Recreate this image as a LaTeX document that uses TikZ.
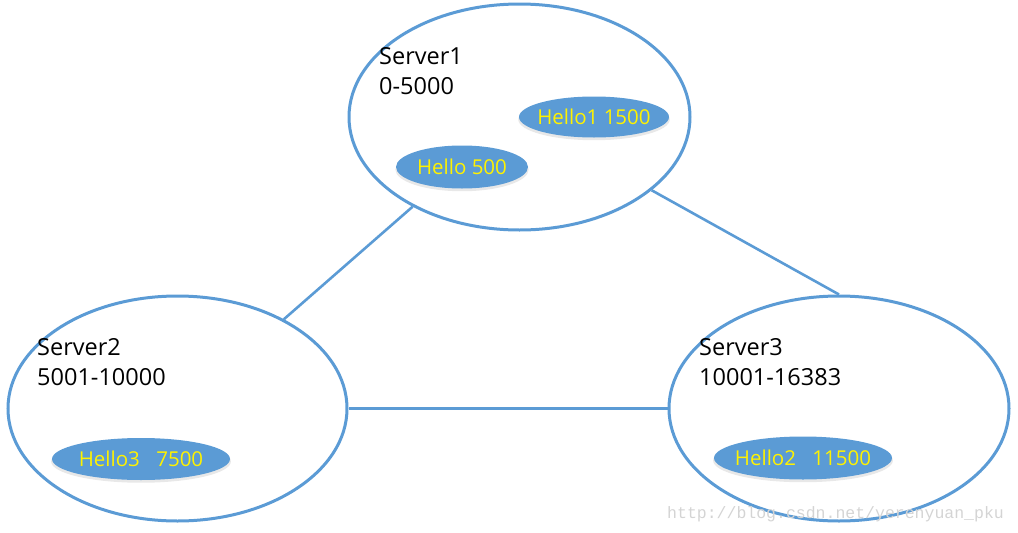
\documentclass[tikz,border=0pt]{standalone}
\usepackage{fontspec}
\setmainfont{Open Sans}
\usetikzlibrary{shapes.geometric,shadows}
\definecolor{obl}{HTML}{5B9BD5}
\definecolor{wm}{HTML}{D4D4D4}
\begin{document}
\begin{tikzpicture}[x=1pt,y=-1pt,
  server/.style={ellipse,draw=obl,line width=3pt,inner sep=0pt,minimum width=#1},
  item/.style={ellipse,fill=obl,inner sep=0pt,
    drop shadow={opacity=0.18,shadow xshift=0pt,shadow yshift=-2.5pt,shadow scale=1.01,fill=gray}},
  itemtext/.style={inner sep=0pt,text=yellow,font=\fontsize{20.5}{20.5}\selectfont},
  lbl/.style={anchor=north west,align=left,inner sep=0pt,font=\fontsize{23.5}{30}\selectfont},
  link/.style={draw=obl,line width=2.6pt}]
\useasboundingbox (0,0) rectangle (1018,533);
\node[server=341pt,minimum height=226pt] (s1) at (519.5,117) {};
\node[server=339pt,minimum height=225pt] (s2) at (177.5,408.5) {};
\node[server=340pt,minimum height=225pt] (s3) at (839,408.5) {};
\draw[link] (s1.220) -- (s2.40);
\draw[link] (s1.-29) -- (s3.north);
\draw[link] (s2.east) -- (s3.west);
\node[lbl] (t1) at (379,47) {Server1\\0-5000};
\node[lbl] (t2) at (37,338) {Server2\\5001-10000};
\node[lbl] (t3) at (699,338) {Server3\\10001-16383};
\node[item,minimum width=150pt,minimum height=41pt] (h1) at (594,117) {};
\node[item,minimum width=132pt,minimum height=43pt] (h0) at (462,167) {};
\node[item,minimum width=178pt,minimum height=42pt] (h3) at (141,459) {};
\node[item,minimum width=178pt,minimum height=43pt] (h2) at (803,458) {};
\node[itemtext] (h1t) at (h1) {Hello1 1500};
\node[itemtext] (h0t) at (h0) {Hello 500};
\node[itemtext] (h3t) at (h3) {Hello3\hspace{0.8em}7500};
\node[itemtext] (h2t) at (h2) {Hello2\hspace{0.8em}11500};
\node[anchor=west,inner sep=0pt,text=wm,font=\fontspec{Liberation Mono}\fontsize{16.5}{16.5}\selectfont] (wmk) at (667,514) {http://blog.csdn.net/yerenyuan\_pku};
\end{tikzpicture}
\end{document}
